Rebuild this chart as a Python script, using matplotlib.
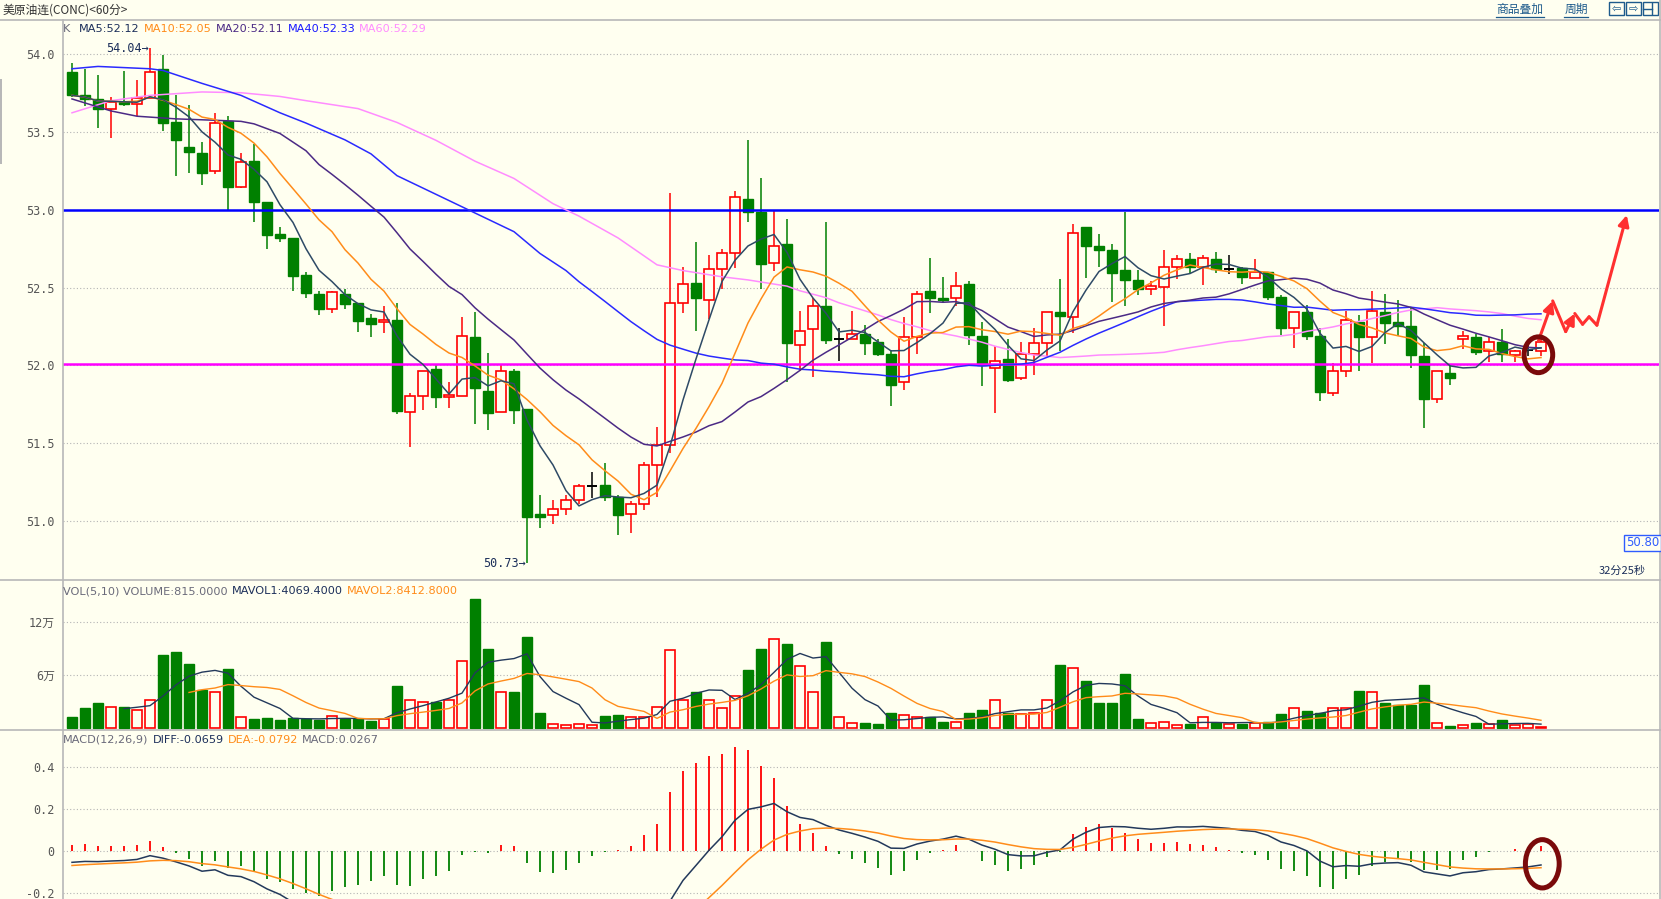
import matplotlib
matplotlib.use("Agg")
import matplotlib.pyplot as plt
from matplotlib.patches import Rectangle, Ellipse
from matplotlib.lines import Line2D
import numpy as np
import pandas as pd

plt.rcParams['font.family'] = ['DejaVu Sans', 'Noto Sans CJK SC']

# ---- 60分 K 线数据 ----
opens = [
    53.887, 53.738, 53.713, 53.651, 53.696, 53.682, 53.722, 53.907, 53.564, 53.402,
    53.364, 53.251, 53.569, 53.147, 53.313, 53.053, 52.842, 52.822, 52.582, 52.460,
    52.362, 52.458, 52.402, 52.307, 52.278, 52.291, 51.698, 51.807, 51.980, 51.798,
    51.807, 52.180, 51.836, 51.698, 51.962, 51.718, 51.047, 51.040, 51.078, 51.136,
    51.224, 51.229, 51.153, 51.047, 51.109, 51.362, 51.491, 52.402, 52.531, 52.420,
    52.620, 52.722, 53.073, 52.987, 52.658, 52.784, 52.129, 52.233, 52.380, 52.169,
    52.169, 52.202, 52.151, 52.073, 51.891, 52.180, 52.480, 52.436, 52.433, 52.524,
    52.191, 51.987, 52.042, 51.920, 52.076, 52.142, 52.342, 52.311, 52.887, 52.769,
    52.744, 52.616, 52.551, 52.491, 52.502, 52.631, 52.687, 52.631, 52.687, 52.620,
    52.624, 52.562, 52.602, 52.442, 52.242, 52.342, 52.187, 51.820, 51.962, 52.280,
    52.180, 52.342, 52.278, 52.253, 52.058, 51.784, 51.951, 52.169, 52.180, 52.096,
    52.151, 52.069, 52.098, 52.096]
highs = [
    53.944, 53.907, 53.867, 53.724, 53.891, 53.836, 54.040, 53.998, 53.736, 53.673,
    53.436, 53.622, 53.602, 53.364, 53.424, 53.053, 52.887, 52.822, 52.602, 52.480,
    52.480, 52.491, 52.402, 52.329, 52.380, 52.402, 51.824, 51.962, 52.007, 51.891,
    52.313, 52.342, 52.080, 52.002, 51.980, 51.718, 51.169, 51.136, 51.169, 51.240,
    51.318, 51.373, 51.169, 51.131, 51.380, 51.602, 53.107, 52.633, 52.796, 52.713,
    52.751, 53.124, 53.451, 53.202, 53.002, 52.944, 52.347, 52.436, 52.924, 52.242,
    52.351, 52.258, 52.169, 52.102, 52.313, 52.476, 52.691, 52.569, 52.602, 52.542,
    52.280, 52.124, 52.169, 52.151, 52.242, 52.342, 52.553, 52.907, 52.887, 52.842,
    52.784, 52.987, 52.613, 52.542, 52.744, 52.707, 52.724, 52.713, 52.731, 52.707,
    52.633, 52.687, 52.602, 52.453, 52.342, 52.387, 52.242, 52.013, 52.347, 52.324,
    52.480, 52.458, 52.420, 52.373, 52.147, 51.962, 52.007, 52.220, 52.202, 52.184,
    52.236, 52.102, 52.130, 52.169]
lows = [
    53.725, 53.669, 53.524, 53.462, 53.669, 53.602, 53.722, 53.509, 53.218, 53.238,
    53.160, 53.231, 52.993, 53.140, 52.920, 52.747, 52.791, 52.476, 52.436, 52.327,
    52.340, 52.362, 52.218, 52.180, 52.211, 51.691, 51.476, 51.713, 51.727, 51.729,
    51.807, 51.624, 51.584, 51.698, 51.624, 50.730, 50.953, 50.984, 51.038, 51.109,
    51.149, 51.131, 50.913, 50.924, 51.069, 51.153, 51.436, 52.340, 52.220, 52.302,
    52.491, 52.629, 52.924, 52.491, 52.609, 51.896, 51.967, 51.927, 52.140, 52.031,
    52.169, 52.069, 52.058, 51.740, 51.840, 52.076, 52.340, 52.402, 52.380, 52.129,
    51.869, 51.696, 51.896, 51.907, 51.940, 52.058, 52.096, 52.211, 52.562, 52.636,
    52.409, 52.384, 52.453, 52.453, 52.253, 52.558, 52.596, 52.518, 52.596, 52.591,
    52.524, 52.562, 52.418, 52.196, 52.113, 52.162, 51.769, 51.807, 51.929, 51.962,
    52.013, 52.140, 52.191, 51.984, 51.598, 51.762, 51.876, 52.109, 52.069, 52.020,
    52.020, 52.020, 52.060, 52.058]
closes = [
    53.736, 53.713, 53.651, 53.691, 53.682, 53.722, 53.887, 53.558, 53.451, 53.373,
    53.238, 53.556, 53.147, 53.311, 53.051, 52.838, 52.818, 52.578, 52.467, 52.360,
    52.473, 52.398, 52.289, 52.267, 52.291, 51.707, 51.807, 51.962, 51.798, 51.809,
    52.187, 51.856, 51.696, 51.962, 51.713, 51.024, 51.024, 51.080, 51.136, 51.224,
    51.224, 51.153, 51.036, 51.113, 51.362, 51.491, 52.402, 52.524, 52.431, 52.620,
    52.722, 53.084, 52.984, 52.651, 52.769, 52.147, 52.220, 52.380, 52.162, 52.169,
    52.202, 52.147, 52.076, 51.876, 52.180, 52.458, 52.431, 52.418, 52.511, 52.198,
    52.002, 52.031, 51.907, 52.076, 52.142, 52.342, 52.320, 52.851, 52.767, 52.740,
    52.596, 52.547, 52.491, 52.513, 52.633, 52.687, 52.631, 52.691, 52.618, 52.620,
    52.567, 52.602, 52.438, 52.238, 52.342, 52.187, 51.831, 51.962, 52.291, 52.180,
    52.347, 52.276, 52.253, 52.069, 51.784, 51.962, 51.920, 52.187, 52.087, 52.151,
    52.076, 52.091, 52.098, 52.153]
volumes = [
    12000, 22000, 28000, 23000, 23000, 20000, 31000, 83000, 86000, 72000,
    43000, 41000, 67000, 12000, 10000, 11000, 9000, 11000, 10000, 9000,
    13000, 10000, 10000, 8000, 10000, 47000, 31000, 29000, 29000, 31000,
    76000, 146000, 89000, 41000, 40000, 103000, 17000, 4000, 3000, 4000,
    3000, 13000, 14000, 12000, 12000, 24000, 88000, 31000, 40000, 31000,
    22000, 36000, 66000, 89000, 101000, 95000, 70000, 40000, 97000, 12000,
    5000, 5000, 4000, 17000, 14000, 12000, 12000, 6000, 6000, 17000,
    20000, 31000, 17000, 16000, 17000, 31000, 71000, 68000, 53000, 28000,
    28000, 61000, 10000, 5000, 6000, 3000, 4000, 12000, 5000, 4000,
    4000, 5000, 7000, 16000, 22000, 19000, 17000, 22000, 22000, 42000,
    41000, 28000, 26000, 26000, 48000, 5600, 2100, 3000, 5081, 3900,
    8200, 3600, 3832, 815]

# 窗口开头之前的长均线 (读图, 第几根K线, 数值)
ma20_early_idx = [1, 4, 6, 9, 12, 14, 15, 17, 19]
ma20_early_val = [53.713, 53.636, 53.602, 53.585, 53.576, 53.569, 53.553, 53.491, 53.38]
ma40_early_idx = [1, 3, 7, 8, 11, 14, 17, 19, 22, 24, 26, 28, 30, 32, 35, 37, 39]
ma40_early_val = [53.907, 53.922, 53.907, 53.896, 53.813, 53.736, 53.624, 53.558, 53.45,
                  53.36, 53.22, 53.14, 53.06, 52.98, 52.86, 52.72, 52.61]
ma60_early_idx = [1, 4, 7, 11, 14, 17, 19, 23, 26, 29, 32, 35, 38, 40, 43, 46, 48,
                  51, 53, 56, 57, 59]
ma60_early_val = [53.624, 53.702, 53.736, 53.758, 53.753, 53.729, 53.702, 53.651, 53.562,
                  53.447, 53.313, 53.202, 53.04, 52.96, 52.82, 52.647, 52.61, 52.57,
                  52.55, 52.51, 52.48, 52.436]

# MACD 第一根K线处的 DIFF / DEA
diff_start = -0.054
dea_start = -0.069

price_ticks = [51.0, 51.5, 52.0, 52.5, 53.0, 53.5, 54.0]
vol_ticks = [60000, 120000]
vol_labels = ['6万', '12万']
macd_ticks = [-0.2, 0, 0.2, 0.4]
macd_labels = ['-0.2', '0', '0.2', '0.4']

BG = '#fffff0'
RED = '#ff0000'
GREEN = '#008000'
NAVY = '#1c2f5a'
ORANGE = '#ff8c1a'
PURPLE = '#4b2a85'
BLUE = '#2a2aff'
PINK = '#ff8cff'
GRAY = '#6a6a7a'
GRID = '#b4b4b4'

W, H = 1661, 899


def px_rect(x0, y0, x1, y1):
    return [x0 / W, 1 - y1 / H, (x1 - x0) / W, (y1 - y0) / H]


def fig_line(x0, y0, x1, y1, color='#b8b8b8', lw=1.2):
    fig.add_artist(Line2D([x0 / W, x1 / W], [1 - y0 / H, 1 - y1 / H],
                          transform=fig.transFigure, color=color, lw=lw))


fig = plt.figure(figsize=(W / 100, H / 100), dpi=100, facecolor=BG)

ax_k = fig.add_axes(px_rect(63, 20, 1659, 580))
ax_v = fig.add_axes(px_rect(63, 580, 1659, 730))
ax_m = fig.add_axes(px_rect(63, 730, 1659, 899))

n = len(closes)
x = np.arange(n)
xl = ((63 - 72) / 13, (1659 - 72) / 13)

for ax in (ax_k, ax_v, ax_m):
    ax.set_facecolor(BG)
    ax.set_xlim(*xl)
    ax.set_xticks([])
    for s in ax.spines.values():
        s.set_visible(False)
    ax.tick_params(axis='y', length=0, pad=6, labelsize=8.5, labelcolor='#555555')

ax_k.set_ylim(50.6214, 54.2204)
ax_v.set_ylim(-2600, 167500)
ax_m.set_ylim(-0.2286, 0.576)

# ---- 网格 ----
for p in price_ticks:
    ax_k.axhline(p, color=GRID, lw=0.8, ls=(0, (1, 2)), zorder=0)
for v in vol_ticks:
    ax_v.axhline(v, color=GRID, lw=0.8, ls=(0, (1, 2)), zorder=0)
for m in macd_ticks:
    ax_m.axhline(m, color=GRID, lw=0.8, ls=(0, (1, 2)), zorder=0)

ax_k.set_yticks(price_ticks)
ax_k.set_yticklabels(['%.1f' % p for p in price_ticks], family=['DejaVu Sans Mono'])
ax_v.set_yticks(vol_ticks)
ax_v.set_yticklabels(vol_labels, family=['DejaVu Sans Mono', 'Noto Sans CJK SC'])
ax_m.set_yticks(macd_ticks)
ax_m.set_yticklabels(macd_labels, family=['DejaVu Sans Mono'])

# ---- K 线 ----
bw = 0.78
for i in range(n):
    o, h, l, c = opens[i], highs[i], lows[i], closes[i]
    if c > o:
        ax_k.vlines(i, l, o, color=RED, lw=1.1, zorder=2)
        ax_k.vlines(i, c, h, color=RED, lw=1.1, zorder=2)
        ax_k.add_patch(Rectangle((i - bw / 2, o), bw, c - o, facecolor=BG,
                                 edgecolor=RED, lw=1.2, zorder=2))
    elif c < o:
        ax_k.vlines(i, l, h, color=GREEN, lw=1.1, zorder=2)
        ax_k.add_patch(Rectangle((i - bw / 2, c), bw, o - c, facecolor=GREEN,
                                 edgecolor=GREEN, lw=1.0, zorder=2))
    else:
        ax_k.vlines(i, l, h, color='black', lw=1.1, zorder=2)
        ax_k.hlines(c, i - bw / 2, i + bw / 2, color='black', lw=1.4, zorder=2)

# ---- 水平压力/支撑线 ----
ax_k.axhline(53.0, color='#0000ff', lw=1.8, zorder=3)
ax_k.axhline(52.01, color='#ff00ff', lw=1.8, zorder=3)

# ---- 均线 ----
cs = pd.Series(closes)
ma5 = cs.rolling(5, min_periods=1).mean()
ma10 = cs.rolling(10, min_periods=1).mean()


def long_ma(win, idx, val):
    comp = cs.rolling(win).mean()
    xs = [k - 1 for k in idx] + list(range(win - 1, n))
    ys = list(val) + list(comp.iloc[win - 1:])
    return xs, ys


for (xs, ys), col in [(long_ma(60, ma60_early_idx, ma60_early_val), PINK),
                      (long_ma(40, ma40_early_idx, ma40_early_val), BLUE),
                      (long_ma(20, ma20_early_idx, ma20_early_val), PURPLE)]:
    ax_k.plot(xs, ys, color=col, lw=1.1, zorder=4)
ax_k.plot(x, ma10, color=ORANGE, lw=1.1, zorder=4)
ax_k.plot(x, ma5, color='#2e4a66', lw=1.1, zorder=4)

# 最高/最低标注
ax_k.text(6 - 0.1, 54.04, '54.04→', ha='right', va='center', color=NAVY,
          fontsize=8.5, family='DejaVu Sans Mono', zorder=5)
ax_k.text(35 - 0.1, 50.73, '50.73→', ha='right', va='center', color=NAVY,
          fontsize=8.5, family='DejaVu Sans Mono', zorder=5)

# ---- 手绘箭头与圆圈 ----
ARROW = '#ff3030'
path = [(112.8, 52.157), (113.9, 52.415), (114.9, 52.218), (115.6, 52.334),
        (116.2, 52.265), (116.7, 52.313), (117.3, 52.259), (119.6, 52.967)]
heads = {1, 3, 7}
for k in range(1, len(path)):
    if k in heads:
        ax_k.annotate('', xy=path[k], xytext=path[k - 1],
                      arrowprops=dict(arrowstyle='-|>', color=ARROW, lw=2.2,
                                      mutation_scale=16, shrinkA=0, shrinkB=0),
                      zorder=6)
    else:
        ax_k.plot([path[k - 1][0], path[k][0]], [path[k - 1][1], path[k][1]],
                  color=ARROW, lw=2.2, zorder=6, solid_capstyle='round')
ax_k.add_patch(Ellipse((112.8, 52.069), 2.2, 0.23, fill=False,
                       edgecolor='#7a0a0a', lw=3.6, zorder=7))

# ---- 成交量 ----
for i in range(n):
    v = volumes[i]
    if closes[i] < opens[i]:
        ax_v.add_patch(Rectangle((i - bw / 2, 0), bw, v, facecolor=GREEN,
                                 edgecolor=GREEN, lw=1.0, zorder=2))
    else:
        ax_v.add_patch(Rectangle((i - bw / 2, 0), bw, v, facecolor=BG,
                                 edgecolor=RED, lw=1.2, zorder=2))
vs = pd.Series(volumes)
ax_v.plot(x, vs.rolling(5).mean(), color='#23395b', lw=1.0, zorder=3)
ax_v.plot(x, vs.rolling(10).mean(), color=ORANGE, lw=1.0, zorder=3)

# ---- MACD ----
c_arr = np.array(closes)
e12 = np.zeros(n)
e26 = np.zeros(n)
dea = np.zeros(n)
e12[0] = c_arr[0] + diff_start / 2
e26[0] = c_arr[0] - diff_start / 2
dea[0] = dea_start
for t in range(1, n):
    e12[t] = e12[t - 1] + 2 / 13 * (c_arr[t] - e12[t - 1])
    e26[t] = e26[t - 1] + 2 / 27 * (c_arr[t] - e26[t - 1])
    dea[t] = dea[t - 1] + 0.2 * ((e12[t] - e26[t]) - dea[t - 1])
dif = e12 - e26
macd = 2 * (dif - dea)
ax_m.vlines(x, 0, macd, colors=[RED if m > 0 else GREEN for m in macd], lw=1.3, zorder=2)
ax_m.plot(x, dif, color='#23395b', lw=1.1, zorder=3)
ax_m.plot(x, dea, color=ORANGE, lw=1.1, zorder=3)
ax_m.add_patch(Ellipse((113.1, -0.061), 2.6, 0.23, fill=False,
                       edgecolor='#7a0a0a', lw=3.6, zorder=7))

# ---- 框线 ----
fig_line(0, 19.5, W, 19.5)
fig_line(0, 580, W, 580)
fig_line(0, 730, W, 730)
fig_line(63, 19.5, 63, H)
fig_line(1659.5, 0, 1659.5, H)
fig.add_artist(Rectangle((0, 1 - 164 / H), 2 / W, 85 / H, transform=fig.transFigure,
                         facecolor='#b8b8b8', edgecolor='none'))

# ---- 文字 ----
renderer = fig.canvas.get_renderer()


def text_row(x_px, y_px, parts, fs=8.1):
    xp = x_px
    for txt, col, gap in parts:
        t = fig.text(xp / W, 1 - y_px / H, txt, color=col, fontsize=fs,
                     ha='left', va='center')
        xp += t.get_window_extent(renderer=renderer).width + gap


text_row(63, 29, [('K', GRAY, 9), ('MA5:52.12', NAVY, 4), ('MA10:52.05', ORANGE, 4),
                  ('MA20:52.11', PURPLE, 4), ('MA40:52.33', '#1a1aff', 4),
                  ('MA60:52.29', PINK, 4)])
text_row(63, 591, [('VOL(5,10) VOLUME:815.0000', GRAY, 4), ('MAVOL1:4069.4000', NAVY, 4),
                   ('MAVOL2:8412.8000', ORANGE, 4)])
text_row(63, 740, [('MACD(12,26,9)', GRAY, 4), ('DIFF:-0.0659', NAVY, 4),
                   ('DEA:-0.0792', ORANGE, 4), ('MACD:0.0267', GRAY, 4)])

fig.text(3 / W, 1 - 10 / H, '美原油连(CONC)<60分>', ha='left', va='center',
         fontsize=8.5, color='#333333', family=['Noto Sans CJK SC', 'DejaVu Sans'])

LINK = '#1e5b8c'
fig.text(1520 / W, 1 - 9.5 / H, '商品叠加', ha='center', va='center', fontsize=8.5,
         color=LINK, family=['Noto Sans CJK SC'])
fig_line(1496, 16.5, 1544, 16.5, color=LINK, lw=0.9)
fig.text(1576 / W, 1 - 9.5 / H, '周期', ha='center', va='center', fontsize=8.5,
         color=LINK, family=['Noto Sans CJK SC'])
fig_line(1564, 16.5, 1588, 16.5, color=LINK, lw=0.9)
for bx, sym in [(1609, '⇦'), (1626, '⇨'), (1643, '')]:
    fig.add_artist(Rectangle((bx / W, 1 - 15 / H), 15 / W, 13 / H, transform=fig.transFigure,
                             facecolor=BG, edgecolor=LINK, lw=1.0))
    if sym:
        fig.text((bx + 7.5) / W, 1 - 8.5 / H, sym, ha='center', va='center',
                 fontsize=8, color=LINK)
fig_line(1652, 3, 1652, 14, color=LINK, lw=1.0)
fig_line(1643, 8.5, 1652, 8.5, color=LINK, lw=1.0)

fig.text(1642.5 / W, 1 - 543 / H, '50.80', ha='center', va='center', fontsize=8.5,
         color='#2f5cff',
         bbox=dict(boxstyle='square,pad=0.15', facecolor=BG, edgecolor='#2f5cff', lw=1.0))
fig.text(1622 / W, 1 - 571 / H, '32分25秒', ha='center', va='center', fontsize=8,
         color=NAVY, family=['Noto Sans CJK SC', 'DejaVu Sans'])

fig.savefig('out.png', dpi=100, facecolor=BG)
